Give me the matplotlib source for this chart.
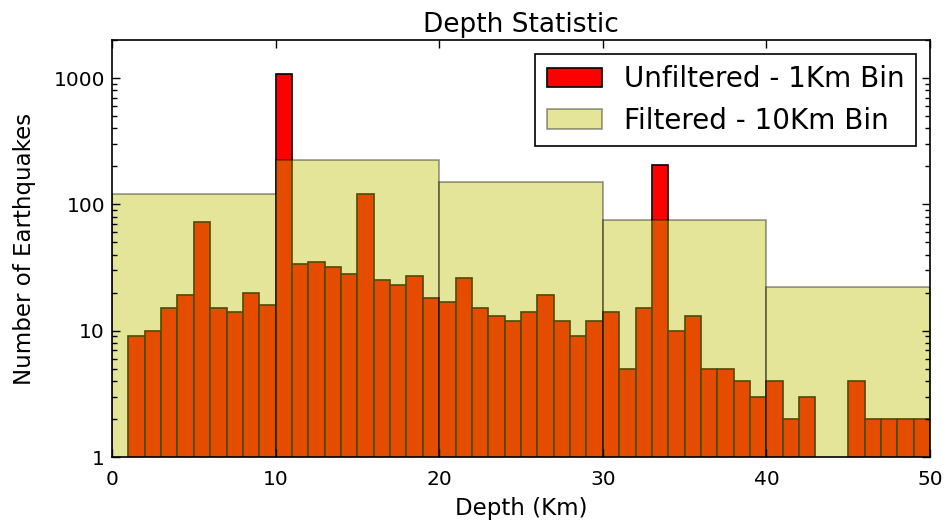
import numpy as np
import matplotlib
matplotlib.use("Agg")
import matplotlib.pyplot as plt
from matplotlib.ticker import FixedLocator, FixedFormatter, LogLocator, NullFormatter

# 1 km bins, 0..50 km
unfiltered_counts = [0, 9, 10, 15, 19, 73, 15, 14, 20, 16,
                     1070, 34, 35, 32, 28, 120, 25, 23, 27, 18,
                     17, 26, 15, 13, 12, 14, 19, 12, 9, 12,
                     14, 5, 15, 205, 10, 13, 5, 5, 4, 3,
                     4, 2, 3, 0, 0, 4, 2, 2, 2, 2]
# 10 km bins
filtered_counts = [120, 224, 149, 75, 22]

unfiltered_edges = list(range(0, 51, 1))
filtered_edges = list(range(0, 51, 10))

y_ticks = [1, 10, 100, 1000]
y_ticklabels = ["1", "10", "100", "1000"]
x_ticks = [0, 10, 20, 30, 40, 50]

fig = plt.figure(figsize=(9.46, 5.25), dpi=100)
ax = fig.add_axes([0.1184, 0.1295, 0.8647, 0.7943])

ax.bar(unfiltered_edges[:-1], unfiltered_counts, width=np.diff(unfiltered_edges),
       align='edge', color='red', edgecolor='black', linewidth=1.2,
       label='Unfiltered - 1Km Bin', log=True)
ax.bar(filtered_edges[:-1], filtered_counts, width=np.diff(filtered_edges),
       align='edge', color='y', edgecolor='black', linewidth=1.2, alpha=0.4,
       label='Filtered - 10Km Bin', log=True)

ax.set_yscale('log')
ax.set_ylim(1, 2000)
ax.set_xlim(0, 50)
ax.yaxis.set_major_locator(FixedLocator(y_ticks))
ax.yaxis.set_major_formatter(FixedFormatter(y_ticklabels))
ax.yaxis.set_minor_locator(LogLocator(base=10, subs=np.arange(2, 10)))
ax.yaxis.set_minor_formatter(NullFormatter())
ax.set_xticks(x_ticks)

ax.tick_params(which='both', direction='in', top=True, right=True, labelsize=14.5)
ax.tick_params(which='major', length=6, width=1)
ax.tick_params(which='minor', length=3.5, width=1)
ax.tick_params(axis='x', pad=9)
ax.tick_params(axis='y', pad=5)
for s in ax.spines.values():
    s.set_linewidth(1.2)

ax.set_title('Depth Statistic', fontsize=19, pad=6)
ax.set_xlabel('Depth (Km)', fontsize=16.5, labelpad=6)
ax.set_ylabel('Number of Earthquakes', fontsize=16.5, labelpad=13)

leg = ax.legend(loc='upper right', fontsize=20, fancybox=False, framealpha=1,
                edgecolor='black')
leg.get_frame().set_linewidth(1.2)

fig.savefig('out.png', dpi=100)
